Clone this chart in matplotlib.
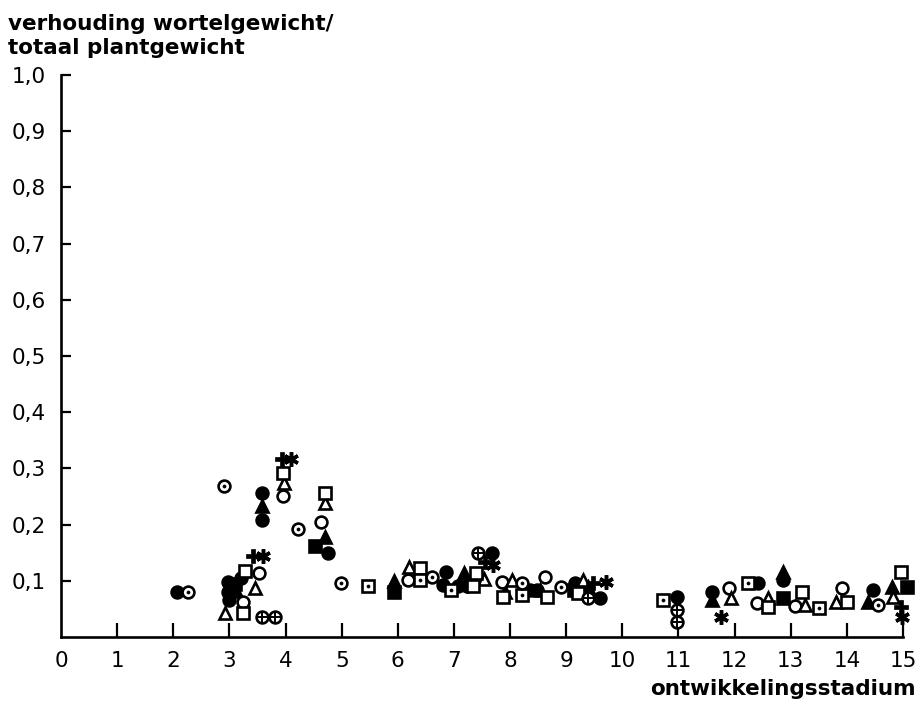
"""Root/total plant weight ratio against development stage (scatter, several series)."""

import matplotlib
matplotlib.use("Agg")
import matplotlib.pyplot as plt

# filled circles
fc_x = [2.07, 2.97, 2.98, 2.99, 3.2, 3.58, 3.58, 4.76, 6.86, 6.8, 7.08, 7.24, 7.68,
        8.36, 8.48, 9.16, 9.61, 10.98, 11.6, 12.42, 12.87, 14.47]
fc_y = [0.08, 0.098, 0.08, 0.065, 0.105, 0.257, 0.208, 0.15, 0.116, 0.093, 0.09, 0.09, 0.149,
        0.084, 0.084, 0.096, 0.069, 0.071, 0.08, 0.096, 0.101, 0.084]
# filled triangles
ft_x = [3.12, 3.58, 4.71, 5.94, 7.18, 7.91, 8.54, 9.38, 11.6, 12.87, 14.37, 14.81]
ft_y = [0.082, 0.233, 0.178, 0.1, 0.113, 0.08, 0.084, 0.089, 0.066, 0.116, 0.062, 0.089]
# filled squares
fs_x = [3.1, 4.53, 5.94, 9.13, 12.87, 15.08]
fs_y = [0.095, 0.162, 0.08, 0.084, 0.069, 0.089]
# open circles
oc_x = [3.25, 3.53, 3.96, 4.63, 6.19, 7.86, 8.63, 11.9, 12.4, 13.08, 13.92]
oc_y = [0.062, 0.114, 0.251, 0.204, 0.101, 0.098, 0.107, 0.087, 0.06, 0.055, 0.087]
# open triangles
ot_x = [2.92, 3.45, 3.97, 4.71, 6.2, 7.54, 8.04, 9.3, 11.93, 12.6, 13.26, 13.8, 14.83]
ot_y = [0.043, 0.087, 0.274, 0.238, 0.125, 0.104, 0.101, 0.101, 0.07, 0.07, 0.057, 0.062, 0.071]
# open squares
os_x = [3.25, 3.28, 3.96, 4.71, 6.4, 7.34, 7.4, 7.88, 8.66, 9.21, 12.6, 13.2, 14.0, 14.96]
os_y = [0.043, 0.117, 0.292, 0.256, 0.123, 0.09, 0.113, 0.071, 0.071, 0.078, 0.053, 0.08, 0.062, 0.116]
# squares with a centre dot
ds_x = [5.47, 6.4, 6.95, 8.22, 10.73, 12.23, 13.5]
ds_y = [0.09, 0.101, 0.084, 0.075, 0.066, 0.096, 0.052]
# circles with a centre dot
dc_x = [2.26, 2.9, 4.22, 4.99, 6.6, 8.22, 8.9, 14.55]
dc_y = [0.08, 0.269, 0.192, 0.096, 0.107, 0.096, 0.089, 0.057]
# crossed circles
cc_x = [3.58, 3.81, 7.43, 9.38, 10.98, 10.98]
cc_y = [0.036, 0.036, 0.149, 0.069, 0.048, 0.027]
# plus signs
pl_x = [3.42, 3.94, 7.56, 9.47, 14.96]
pl_y = [0.144, 0.317, 0.133, 0.096, 0.053]
# asterisks
st_x = [3.6, 4.1, 7.7, 9.7, 11.75, 14.99]
st_y = [0.144, 0.317, 0.128, 0.098, 0.036, 0.036]

x_ticks = list(range(0, 16))
y_ticks = [0.1, 0.2, 0.3, 0.4, 0.5, 0.6, 0.7, 0.8, 0.9, 1.0]

plt.rcParams["font.family"] = "DejaVu Sans"

fig = plt.figure(figsize=(9.22, 7.08), dpi=100)
ax = fig.add_axes([0.0662, 0.1003, 0.9132, 0.7937])

ms = 8.5
mew = 1.9
k = "black"
common = dict(ls="none", ms=ms, mew=mew, mec=k, clip_on=False, zorder=3)

ax.plot(fc_x, fc_y, "o", mfc=k, **common)
ax.plot(ft_x, ft_y, "^", mfc=k, **common)
ax.plot(fs_x, fs_y, "s", mfc=k, **{**common, "ms": 8})
ax.plot(oc_x, oc_y, "o", mfc="white", **common)
ax.plot(ot_x, ot_y, "^", mfc="white", **common)
ax.plot(os_x, os_y, "s", mfc="white", **{**common, "ms": 8})
ax.plot(ds_x, ds_y, "s", mfc="white", **{**common, "ms": 8})
ax.plot(ds_x, ds_y, "o", mfc=k, **{**common, "ms": 2.2, "mew": 0.5})
ax.plot(dc_x, dc_y, "o", mfc="white", **common)
ax.plot(dc_x, dc_y, "o", mfc=k, **{**common, "ms": 2.2, "mew": 0.5})
ax.plot(cc_x, cc_y, "o", mfc="white", **common)
ax.plot(cc_x, cc_y, "+", **{**common, "ms": 8.5, "mew": 1.4})
ax.plot(pl_x, pl_y, "P", mfc=k, **{**common, "ms": 9.5, "mew": 0.5})
ax.plot(st_x, st_y, marker=(6, 2, 0), **{**common, "ms": 10.5, "mew": 2.5})

ax.set_xlim(0, 15)
ax.set_ylim(0, 1.0)
ax.set_xticks(x_ticks)
ax.set_xticklabels([str(v) for v in x_ticks])
ax.set_yticks(y_ticks)
ax.set_yticklabels([f"{v:.1f}".replace(".", ",") for v in y_ticks])

for side in ("top", "right"):
    ax.spines[side].set_visible(False)
for side in ("left", "bottom"):
    ax.spines[side].set_linewidth(1.9)
    ax.spines[side].set_color(k)

ax.tick_params(axis="both", direction="in", width=1.6, colors=k, labelsize=15.5)
ax.tick_params(axis="x", length=10, pad=10)
ax.tick_params(axis="y", length=7, pad=11)
ax.get_xticklines()[0].set_visible(False)

label_kw = dict(fontsize=15.5, fontweight="bold", ha="left")
fig.text(0.009, 0.980, "verhouding wortelgewicht/", va="top", **label_kw)
fig.text(0.009, 0.947, "totaal plantgewicht", va="top", **label_kw)
fig.text(0.993, 0.027, "ontwikkelingsstadium", fontsize=15.5, fontweight="bold",
         va="center", ha="right")

fig.savefig("out.png", dpi=100)
